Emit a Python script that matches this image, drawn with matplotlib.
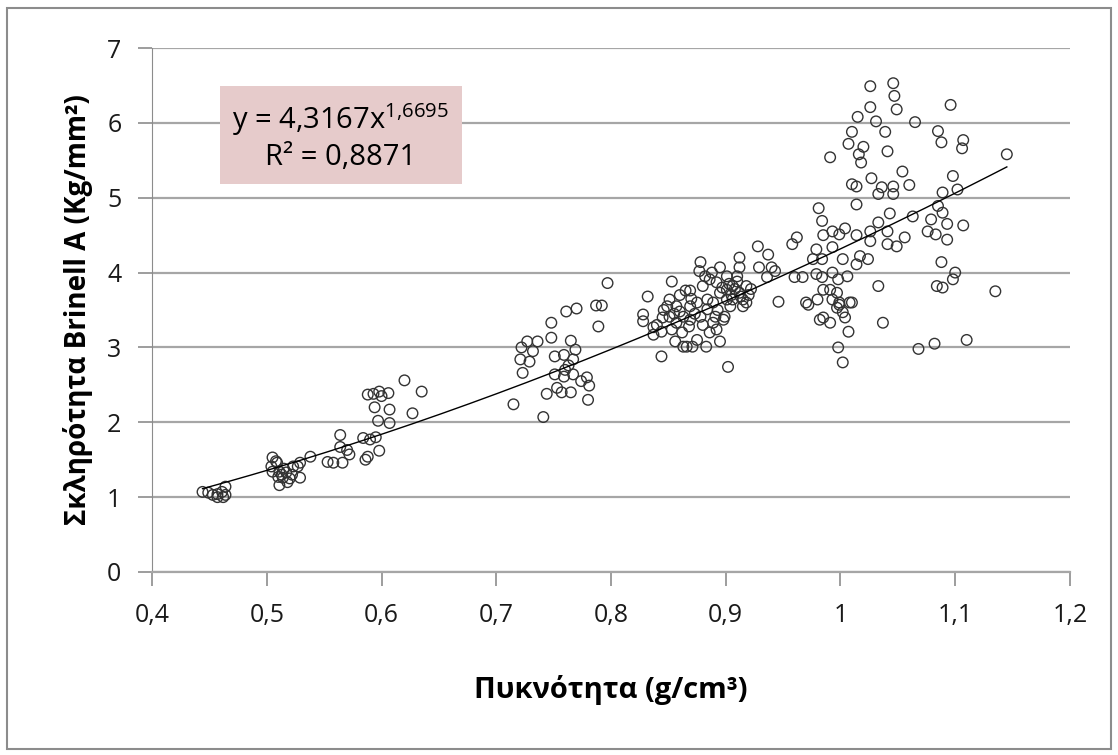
import numpy as np
import matplotlib
matplotlib.use("Agg")
import matplotlib.pyplot as plt
from matplotlib.patches import Rectangle

plt.rcParams['font.family'] = ['Open Sans', 'DejaVu Sans']
plt.rcParams['mathtext.fontset'] = 'custom'
plt.rcParams['mathtext.rm'] = 'Open Sans'

# density (g/cm3) and Brinell hardness
points = [
    # ~0.45
    (0.444, 1.07), (0.449, 1.06), (0.453, 1.03), (0.457, 1.04), (0.461, 1.07),
    (0.464, 1.14), (0.464, 1.03), (0.462, 1.00), (0.457, 1.00),
    # ~0.51
    (0.505, 1.53), (0.509, 1.46), (0.504, 1.41), (0.511, 1.34), (0.517, 1.33),
    (0.505, 1.34), (0.510, 1.27), (0.514, 1.26), (0.518, 1.20), (0.511, 1.16),
    (0.523, 1.41), (0.522, 1.30), (0.527, 1.41), (0.529, 1.46), (0.529, 1.26),
    (0.538, 1.54), (0.508, 1.48), (0.515, 1.38), (0.520, 1.25), (0.513, 1.30),
    # ~0.57
    (0.553, 1.47), (0.558, 1.46), (0.566, 1.46), (0.564, 1.67), (0.570, 1.63),
    (0.572, 1.57), (0.564, 1.83), (0.584, 1.79), (0.588, 1.54), (0.590, 1.77),
    (0.595, 1.80), (0.598, 1.62), (0.586, 1.50),
    # ~0.6
    (0.588, 2.37), (0.593, 2.38), (0.598, 2.41), (0.606, 2.39), (0.620, 2.56),
    (0.635, 2.41), (0.594, 2.20), (0.607, 2.17), (0.627, 2.12), (0.597, 2.02),
    (0.607, 1.99), (0.600, 2.35),
    # ~0.75
    (0.797, 3.86), (0.787, 3.56), (0.792, 3.56), (0.789, 3.28), (0.761, 3.48),
    (0.770, 3.52), (0.748, 3.33), (0.748, 3.13), (0.765, 3.09), (0.769, 2.97),
    (0.727, 3.08), (0.736, 3.08), (0.722, 3.00), (0.732, 2.95), (0.721, 2.84),
    (0.729, 2.81), (0.723, 2.66), (0.751, 2.88), (0.759, 2.90), (0.767, 2.84),
    (0.763, 2.76), (0.751, 2.64), (0.759, 2.61), (0.767, 2.64), (0.779, 2.60),
    (0.781, 2.49), (0.753, 2.46), (0.757, 2.40), (0.765, 2.40), (0.744, 2.38),
    (0.780, 2.30), (0.715, 2.24), (0.741, 2.07), (0.774, 2.55), (0.760, 2.70),
    # ~0.88
    (0.853, 3.88), (0.832, 3.68), (0.865, 3.76), (0.869, 3.76), (0.878, 4.14),
    (0.877, 4.02), (0.912, 4.20), (0.928, 4.35), (0.937, 4.24), (0.929, 4.07),
    (0.940, 4.07), (0.943, 4.02), (0.936, 3.94), (0.946, 3.61), (0.895, 4.07),
    (0.912, 4.07), (0.902, 2.74), (0.844, 2.88), (0.828, 3.44), (0.828, 3.35),
    (0.837, 3.27), (0.837, 3.17), (0.844, 3.21), (0.845, 3.40), (0.851, 3.64),
    (0.851, 3.41), (0.857, 3.33), (0.853, 3.24), (0.856, 3.08), (0.863, 3.01),
    (0.866, 3.01), (0.871, 3.01), (0.875, 3.10), (0.883, 3.01), (0.886, 3.20),
    (0.892, 3.24), (0.895, 3.08), (0.899, 3.41), (0.891, 3.41), (0.884, 3.51),
    (0.878, 3.41), (0.869, 3.37), (0.863, 3.41), (0.860, 3.48), (0.857, 3.55),
    (0.869, 3.55), (0.875, 3.60), (0.884, 3.64), (0.889, 3.60), (0.895, 3.73),
    (0.901, 3.77), (0.906, 3.82), (0.912, 3.73), (0.915, 3.64), (0.918, 3.82),
    (0.910, 3.95), (0.901, 3.95), (0.892, 3.87), (0.886, 3.91), (0.880, 3.82),
    (0.915, 3.55), (0.906, 3.64), (0.901, 3.64), (0.898, 3.37), (0.889, 3.33),
    (0.849, 3.55), (0.905, 3.70), (0.908, 3.78), (0.903, 3.85), (0.897, 3.80),
    (0.910, 3.88), (0.913, 3.68), (0.920, 3.70), (0.922, 3.78), (0.918, 3.60),
    (0.893, 3.50), (0.880, 3.30), (0.873, 3.45), (0.862, 3.20), (0.868, 3.28),
    (0.855, 3.45), (0.840, 3.30), (0.846, 3.50), (0.882, 3.95), (0.888, 4.00),
    (0.904, 3.55), (0.870, 3.65), (0.860, 3.70),
    # ~1.0
    (0.958, 4.38), (0.962, 4.47), (0.960, 3.94), (0.967, 3.94), (0.972, 3.57),
    (1.026, 6.49), (1.046, 6.53), (1.047, 6.36), (1.049, 6.18), (1.026, 6.21),
    (1.096, 6.24), (1.015, 6.08), (1.031, 6.02), (1.065, 6.01), (1.039, 5.88),
    (1.010, 5.88), (1.007, 5.72), (1.085, 5.89), (1.088, 5.74), (1.107, 5.77),
    (1.106, 5.66), (1.020, 5.68), (1.016, 5.58), (1.018, 5.47), (1.041, 5.62),
    (0.991, 5.54), (1.054, 5.35), (1.098, 5.29), (1.027, 5.26), (1.010, 5.18),
    (1.014, 5.15), (1.060, 5.17), (1.036, 5.14), (1.046, 5.15), (1.033, 5.05),
    (1.046, 5.05), (1.102, 5.11), (1.089, 5.07), (1.014, 4.91), (0.981, 4.86),
    (1.085, 4.89), (1.043, 4.79), (1.089, 4.80), (0.984, 4.69), (1.063, 4.75),
    (1.079, 4.71), (1.033, 4.67), (1.004, 4.59), (1.093, 4.65), (1.107, 4.63),
    (0.993, 4.55), (0.999, 4.51), (0.985, 4.50), (1.014, 4.50), (1.026, 4.55),
    (1.041, 4.55), (1.076, 4.55), (1.083, 4.51), (1.093, 4.44), (0.979, 4.31),
    (0.993, 4.34), (1.026, 4.42), (1.041, 4.38), (1.049, 4.35), (1.056, 4.47),
    (0.976, 4.18), (0.984, 4.18), (1.002, 4.18), (1.017, 4.22), (1.024, 4.18),
    (1.014, 4.11), (1.088, 4.14), (0.979, 3.98), (0.984, 3.94), (0.993, 4.00),
    (0.998, 3.91), (1.006, 3.95), (1.033, 3.82), (1.100, 4.00), (1.098, 3.91),
    (1.084, 3.82), (1.089, 3.80), (0.985, 3.77), (0.991, 3.77), (0.997, 3.73),
    (0.993, 3.64), (0.999, 3.60), (0.980, 3.64), (0.970, 3.60), (1.008, 3.60),
    (0.982, 3.37), (0.985, 3.40), (0.991, 3.33), (0.997, 3.53), (1.002, 3.47),
    (1.004, 3.40), (0.999, 3.57), (1.010, 3.60), (1.007, 3.21), (1.037, 3.33),
    (0.998, 3.00), (1.002, 2.80), (1.068, 2.98), (1.082, 3.05), (1.110, 3.10),
    (1.145, 5.58), (1.135, 3.75),
]
density = np.array([p[0] for p in points])
hardness = np.array([p[1] for p in points])

# power trend line y = a * x^b
a_coef = 4.3167
b_coef = 1.6695
r2 = 0.8871

x_ticks = [0.4, 0.5, 0.6, 0.7, 0.8, 0.9, 1.0, 1.1, 1.2]
x_labels = ['0,4', '0,5', '0,6', '0,7', '0,8', '0,9', '1', '1,1', '1,2']
y_ticks = [0, 1, 2, 3, 4, 5, 6, 7]

fig = plt.figure(figsize=(11.18, 7.55), dpi=100)
ax = fig.add_axes([0.136, 0.2424, 0.821, 0.694])

ax.scatter(density, hardness, s=58, facecolors='none', edgecolors='#333333',
           linewidths=1.0, zorder=3)

xf = np.linspace(density.min(), density.max(), 200)
ax.plot(xf, a_coef * xf ** b_coef, color='black', lw=1.0, zorder=4)

ax.set_xlim(0.4, 1.2)
ax.set_ylim(0, 7)
ax.set_xticks(x_ticks)
ax.set_xticklabels(x_labels)
ax.set_yticks(y_ticks)

ax.yaxis.grid(True, color='#a6a6a6', lw=1.6)
ax.set_axisbelow(True)
for s in ['top', 'right']:
    ax.spines[s].set_visible(False)
ax.spines['left'].set_color('#8c8c8c')
ax.spines['bottom'].set_color('#a6a6a6')
ax.spines['bottom'].set_linewidth(1.6)
ax.tick_params(axis='both', colors='#8c8c8c', length=10, width=1.2,
               labelsize=18, labelcolor='#1a1a1a')
ax.tick_params(axis='x', pad=12)
ax.tick_params(axis='y', pad=12)

ax.set_xlabel('Πυκνότητα (g/cm³)', fontsize=21, fontweight='bold', labelpad=34)
ax.set_ylabel('Σκληρότητα Brinell A (Kg/mm²)', fontsize=20, fontweight='bold',
              labelpad=10)

eq = 'y = 4,3167x$^{\\mathregular{1{,}6695}}$\nR² = 0,8871'
ax.text(0.5645, 5.82, eq, fontsize=21, ha='center', va='center',
        linespacing=1.25, zorder=5,
        bbox=dict(boxstyle='square,pad=0.42', facecolor='#e6cbcb',
                  edgecolor='none'))

fig.patches.append(Rectangle((0.006, 0.008), 0.988, 0.982, transform=fig.transFigure,
                             fill=False, edgecolor='#8c8c8c', lw=1.5))

fig.savefig('out.png', dpi=100)
